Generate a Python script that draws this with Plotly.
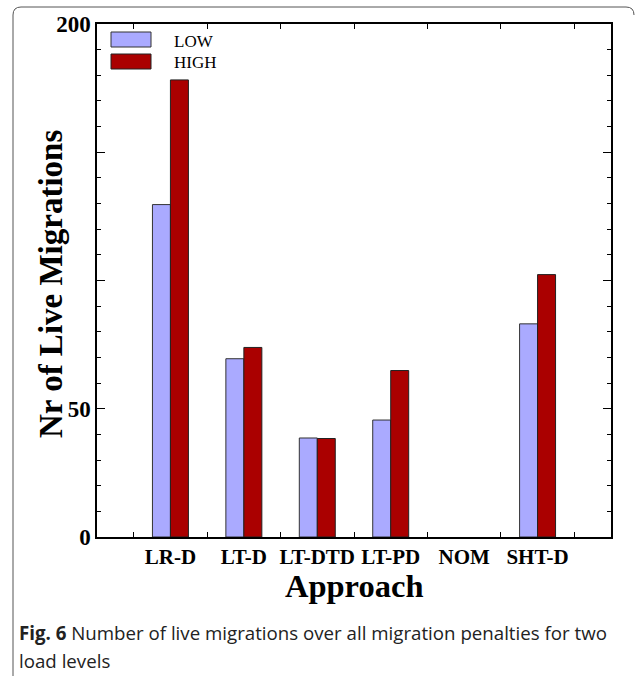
import plotly.graph_objects as go

categories = ["LR-D", "LT-D", "LT-DTD", "LT-PD", "NOM", "SHT-D"]
low_values = [129.6, 69.5, 38.6, 45.6, 0, 83.1]
high_values = [178.2, 73.9, 38.4, 64.9, 0, 102.3]
y_tick_vals = [0, 50, 100, 150, 200]
y_tick_text = ["0", "50", "", "", "200"]

W, H = 635, 676
L, R, T, B = 97, 24, 24, 139
PW, PH = W - L - R, H - T - B


def px(x):
    return (x - L) / PW


def py(y):
    return (H - B - y) / PH


def outline(vals):
    return [1 if v > 0 else 0 for v in vals]


fig = go.Figure()
fig.add_trace(go.Bar(x=categories, y=low_values, name="LOW",
                     marker=dict(color="#AAAAFF",
                                 line=dict(color="#333333", width=outline(low_values)))))
fig.add_trace(go.Bar(x=categories, y=high_values, name="HIGH",
                     marker=dict(color="#AA0000",
                                 line=dict(color="#222222", width=outline(high_values)))))

serif = "Liberation Serif"
fig.update_layout(
    width=W, height=H,
    margin=dict(l=L, r=R, t=T, b=B),
    paper_bgcolor="white", plot_bgcolor="white",
    barmode="group", bargap=0.51, bargroupgap=0,
    showlegend=False,
    font=dict(family=serif, color="black"),
)
fig.update_xaxes(
    type="category", range=[-1, 6], tickangle=0,
    showline=True, linecolor="black", linewidth=1.5, mirror="allticks",
    ticks="inside", ticklen=5, tickwidth=1, tickcolor="black", tickson="boundaries",
    tickfont=dict(family=serif, size=21, color="black", weight="bold"),
    showgrid=False,
)
fig.update_yaxes(
    range=[0, 200],
    tickvals=y_tick_vals, ticktext=y_tick_text,
    showline=True, linecolor="black", linewidth=1.5, mirror="allticks",
    ticks="inside", ticklen=8, tickwidth=1, tickcolor="black",
    minor=dict(dtick=10, ticks="inside", ticklen=4, tickcolor="black", tickwidth=1, showgrid=False),
    tickfont=dict(family=serif, size=23, color="black", weight="bold"),
    showgrid=False, zeroline=False,
)

annotations = [
    dict(text="<b>Nr of Live Migrations</b>", x=px(51), y=py(284), xref="paper", yref="paper",
         textangle=-90, showarrow=False, xanchor="center", yanchor="middle",
         font=dict(family=serif, size=33, color="black")),
    dict(text="<b>Approach</b>", x=px(354), y=py(586), xref="paper", yref="paper",
         showarrow=False, xanchor="center", yanchor="middle",
         font=dict(family=serif, size=32.5, color="black")),
    dict(text="LOW", x=px(172), y=py(41), xref="paper", yref="paper", showarrow=False,
         xanchor="left", yanchor="middle", font=dict(family=serif, size=17, color="black")),
    dict(text="HIGH", x=px(172), y=py(62), xref="paper", yref="paper", showarrow=False,
         xanchor="left", yanchor="middle", font=dict(family=serif, size=17, color="black")),
    dict(text="<b>Fig. 6</b> Number of live migrations over all migration penalties for two",
         x=px(17), y=py(632), xref="paper", yref="paper", showarrow=False,
         xanchor="left", yanchor="middle", align="left",
         font=dict(family="Open Sans", size=18.7, color="#222222")),
    dict(text="load levels",
         x=px(17), y=py(660), xref="paper", yref="paper", showarrow=False,
         xanchor="left", yanchor="middle", align="left",
         font=dict(family="Open Sans", size=18.7, color="#222222")),
]
fig.update_layout(annotations=annotations)

shapes = [
    dict(type="rect", xref="paper", yref="paper", x0=px(111), x1=px(151), y0=py(47), y1=py(32),
         fillcolor="#AAAAFF", line=dict(color="#333333", width=1)),
    dict(type="rect", xref="paper", yref="paper", x0=px(111), x1=px(151), y0=py(69), y1=py(54),
         fillcolor="#AA0000", line=dict(color="#222222", width=1)),
]
r = 8
path = (f"M {px(13)},{py(676)} L {px(13)},{py(7 + r)} Q {px(13)},{py(7)} {px(13 + r)},{py(7)} "
        f"L {px(626)},{py(7)} Q {px(634)},{py(7)} {px(634)},{py(7 + r)}")
shapes.append(dict(type="path", xref="paper", yref="paper", path=path,
                   line=dict(color="#555555", width=1)))
fig.update_layout(shapes=shapes)

fig.write_html("out.html")
